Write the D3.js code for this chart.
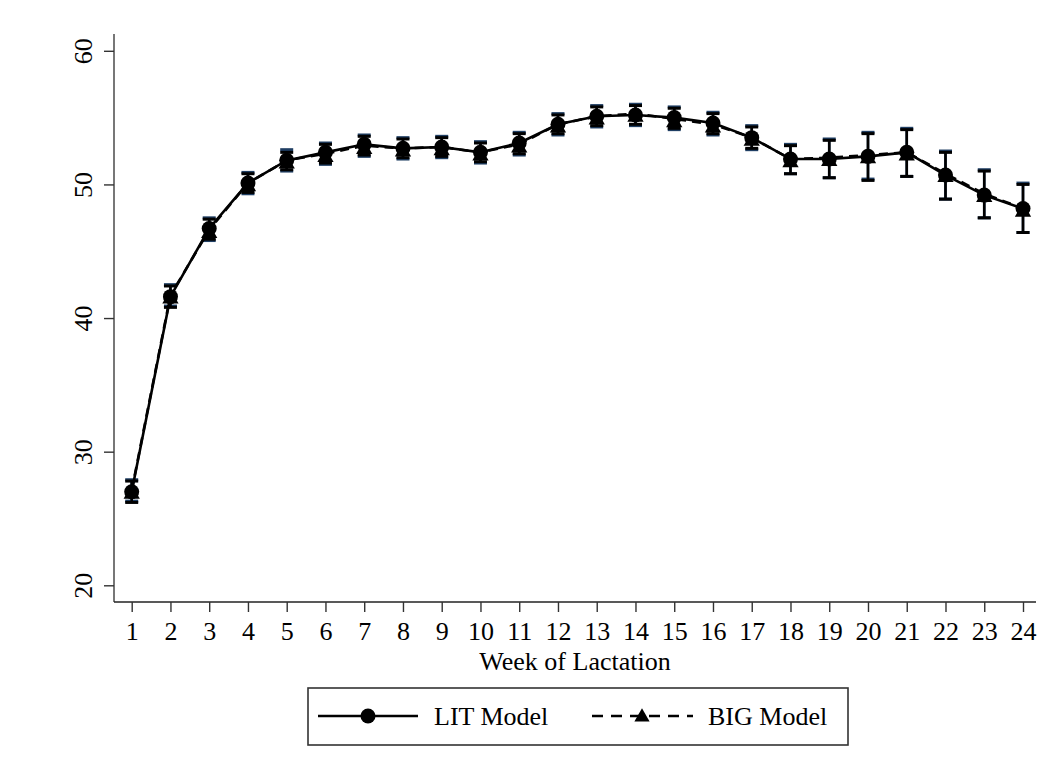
<!DOCTYPE html>
<html>
<head>
<meta charset="utf-8">
<title>Week of Lactation</title>
<script src="https://d3js.org/d3.v7.min.js"></script>
<style>
    body { margin: 0; background: #fff; }
    text { font-family: "Liberation Serif", "Times New Roman", Times, "DejaVu Serif", serif; fill: #000; }
</style>
</head>
<body>
<div id="chart"></div>
<script>
    // Data
    const weeks = d3.range(1, 25);
    const yTicks = [20, 30, 40, 50, 60];

    const litMean = [27.0, 41.6, 46.7, 50.1, 51.8, 52.4, 53.0, 52.7, 52.8, 52.4, 53.1, 54.5,
                     55.1, 55.2, 55.0, 54.6, 53.5, 51.9, 51.9, 52.1, 52.4, 50.7, 49.2, 48.2];
    const litLo   = [26.2, 40.8, 45.9, 49.4, 51.1, 51.6, 52.2, 52.0, 52.1, 51.7, 52.3, 53.8,
                     54.4, 54.5, 54.2, 53.8, 52.7, 50.8, 50.5, 50.3, 50.6, 48.9, 47.5, 46.4];
    const litHi   = [27.8, 42.4, 47.4, 50.8, 52.4, 53.0, 53.6, 53.4, 53.5, 53.1, 53.8, 55.2,
                     55.8, 55.9, 55.7, 55.3, 54.3, 52.9, 53.3, 53.8, 54.1, 52.4, 51.0, 50.0];

    const bigMean = [27.1, 41.7, 46.6, 50.1, 51.8, 52.3, 52.9, 52.7, 52.8, 52.4, 53.0, 54.5,
                     55.1, 55.3, 54.9, 54.5, 53.5, 51.9, 52.0, 52.2, 52.4, 50.8, 49.3, 48.2];
    const bigLo   = [26.3, 40.9, 45.8, 49.3, 51.0, 51.5, 52.1, 51.9, 52.0, 51.6, 52.2, 53.7,
                     54.3, 54.4, 54.1, 53.7, 52.6, 50.8, 50.5, 50.4, 50.6, 48.9, 47.5, 46.4];
    const bigHi   = [27.9, 42.5, 47.5, 50.9, 52.6, 53.1, 53.7, 53.5, 53.6, 53.2, 53.9, 55.3,
                     55.9, 56.0, 55.8, 55.4, 54.4, 53.0, 53.4, 53.9, 54.2, 52.5, 51.1, 50.1];

    const W = 1056, H = 770;
    const FS = 26;
    const svg = d3.select("#chart").append("svg")
        .attr("width", W).attr("height", H);

    // Scales
    const x = d3.scaleLinear().domain([1, 24]).range([131.7, 1023]);
    const y = d3.scaleLinear().domain([20, 60]).range([585.3, 50.8]);

    const axisX0 = 114, axisY0 = 602;

    // Y axis
    svg.append("line")
        .attr("x1", axisX0).attr("x2", axisX0)
        .attr("y1", 34).attr("y2", axisY0)
        .attr("stroke", "#555").attr("stroke-width", 1.6);

    const yAxis = svg.append("g")
        .attr("transform", "translate(" + axisX0 + ",0)")
        .call(d3.axisLeft(y).tickValues(yTicks).tickSize(10).tickSizeOuter(0).tickFormat(d3.format("d")));
    yAxis.select(".domain").remove();
    yAxis.selectAll(".tick line").attr("stroke", "#333").attr("stroke-width", 1.4);
    yAxis.selectAll(".tick text")
        .attr("font-size", FS)
        .attr("text-anchor", "middle")
        .attr("x", null).attr("dy", null)
        .attr("transform", "translate(-22,0) rotate(-90)");

    // X axis
    svg.append("line")
        .attr("x1", axisX0).attr("x2", 1036)
        .attr("y1", axisY0).attr("y2", axisY0)
        .attr("stroke", "#222").attr("stroke-width", 1.6);

    const xAxis = svg.append("g")
        .attr("transform", "translate(0," + axisY0 + ")")
        .call(d3.axisBottom(x).tickValues(weeks).tickSize(10).tickSizeOuter(0).tickFormat(d3.format("d")));
    xAxis.select(".domain").remove();
    xAxis.selectAll(".tick line").attr("stroke", "#333").attr("stroke-width", 1.4);
    xAxis.selectAll(".tick text")
        .attr("font-size", FS)
        .attr("y", 38).attr("dy", null);

    svg.append("text")
        .attr("x", (axisX0 + 1036) / 2).attr("y", 670)
        .attr("text-anchor", "middle")
        .attr("font-size", FS)
        .text("Week of Lactation");

    // Error bars
    function errorBars(lo, hi, color) {
        const g = svg.append("g").attr("stroke", color);
        g.selectAll("line.v").data(weeks).enter().append("line")
            .attr("x1", d => x(d)).attr("x2", d => x(d))
            .attr("y1", (d, i) => y(lo[i])).attr("y2", (d, i) => y(hi[i]))
            .attr("stroke-width", 2.6);
        [lo, hi].forEach(arr => {
            g.selectAll(null).data(weeks).enter().append("line")
                .attr("x1", d => x(d) - 6.5).attr("x2", d => x(d) + 6.5)
                .attr("y1", (d, i) => y(arr[i])).attr("y2", (d, i) => y(arr[i]))
                .attr("stroke-width", 3);
        });
    }
    errorBars(bigLo, bigHi, "#1f3e63");
    errorBars(litLo, litHi, "#000");

    // Lines
    const line = vals => d3.line().x(d => x(d)).y((d, i) => y(vals[i]))(weeks);

    svg.append("path").attr("d", line(bigMean))
        .attr("fill", "none").attr("stroke", "#000").attr("stroke-width", 2.6)
        .attr("stroke-dasharray", "9,6");
    svg.append("path").attr("d", line(litMean))
        .attr("fill", "none").attr("stroke", "#000").attr("stroke-width", 2.6);

    // Markers
    const tri = d3.symbol().type(d3.symbolTriangle).size(115);
    svg.selectAll("path.tri").data(weeks).enter().append("path")
        .attr("d", tri)
        .attr("transform", (d, i) => "translate(" + x(d) + "," + (y(bigMean[i]) + 3.5) + ")")
        .attr("fill", "#000");
    svg.selectAll("circle.lit").data(weeks).enter().append("circle")
        .attr("cx", d => x(d)).attr("cy", (d, i) => y(litMean[i]))
        .attr("r", 7.5).attr("fill", "#000");

    // Legend
    const lg = svg.append("g");
    lg.append("rect")
        .attr("x", 308).attr("y", 688).attr("width", 540).attr("height", 57)
        .attr("fill", "#fff").attr("stroke", "#333").attr("stroke-width", 1.6);
    lg.append("line").attr("x1", 318).attr("x2", 418).attr("y1", 716).attr("y2", 716)
        .attr("stroke", "#000").attr("stroke-width", 2.6);
    lg.append("circle").attr("cx", 368).attr("cy", 716).attr("r", 7.5).attr("fill", "#000");
    lg.append("text").attr("x", 434).attr("y", 725).attr("font-size", FS).text("LIT Model");
    lg.append("line").attr("x1", 592).attr("x2", 693).attr("y1", 716).attr("y2", 716)
        .attr("stroke", "#000").attr("stroke-width", 2.6).attr("stroke-dasharray", "11,8");
    lg.append("path").attr("d", d3.symbol().type(d3.symbolTriangle).size(100))
        .attr("transform", "translate(642,717)").attr("fill", "#000");
    lg.append("text").attr("x", 708).attr("y", 725).attr("font-size", FS).text("BIG Model");
</script>
</body>
</html>
